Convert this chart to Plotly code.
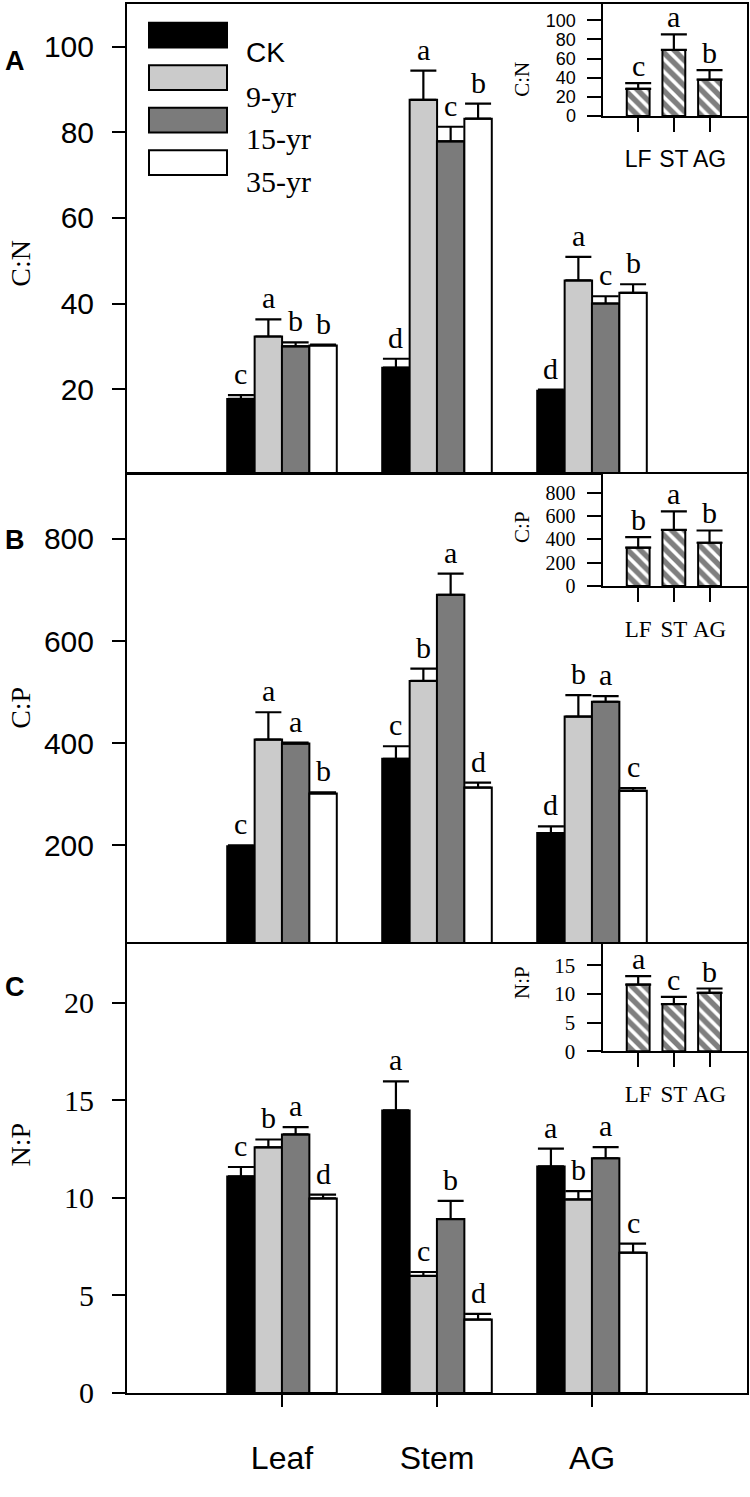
import plotly.graph_objects as go

# categories
groups = ["Leaf", "Stem", "AG"]
treatments = ["CK", "9-yr", "15-yr", "35-yr"]
organs = ["LF", "ST", "AG"]

# main panels, one row per treatment (CK, 9-yr, 15-yr, 35-yr), columns Leaf/Stem/AG
cn_means = [[17.7, 25.0, 19.6], [32.3, 87.6, 45.4], [30.0, 77.9, 40.0], [30.2, 83.2, 42.5]]
cn_errs = [[0.9, 2.1, 0.3], [4.0, 6.8, 5.5], [0.9, 3.4, 1.7], [0.2, 3.5, 2.0]]
cn_letters = [["c", "d", "d"], ["a", "a", "a"], ["b", "c", "c"], ["b", "b", "b"]]

cp_means = [[197.9, 369.2, 223.7], [406.8, 521.8, 452.0], [399.0, 690.6, 481.0], [301.3, 312.9, 306.5]]
cp_errs = [[2.0, 24.6, 13.0], [53.6, 23.9, 42.0], [2.0, 41.4, 11.0], [2.0, 9.7, 5.2]]
cp_letters = [["c", "c", "d"], ["a", "b", "b"], ["a", "a", "a"], ["b", "d", "c"]]

np_means = [[11.1, 14.48, 11.61], [12.59, 6.0, 9.92], [13.25, 8.91, 12.03], [9.97, 3.76, 7.19]]
np_errs = [[0.48, 1.49, 0.91], [0.40, 0.2, 0.42], [0.37, 0.93, 0.57], [0.19, 0.29, 0.46]]
np_letters = [["c", "a", "a"], ["b", "c", "b"], ["a", "b", "a"], ["d", "d", "c"]]

# insets (LF, ST, AG)
cn_in = [28.3, 69.0, 37.9]
cn_in_err = [5.9, 16.2, 10.0]
cn_in_letters = ["c", "a", "b"]
cp_in = [328, 480, 370]
cp_in_err = [90, 159, 105]
cp_in_letters = ["b", "a", "b"]
np_in = [11.64, 8.24, 10.2]
np_in_err = [1.46, 1.26, 0.75]
np_in_letters = ["a", "c", "b"]

colors = ["#000000", "#cbcbcb", "#7b7b7b", "#ffffff"]
offsets = [-0.265, -0.088, 0.088, 0.265]
bar_w = 0.177

W, H = 750, 1497
SANS = "Liberation Sans, Arial"
SERIF = "Liberation Serif, Times New Roman"


def py(top, bottom):
    # pixel rows -> paper domain
    return [1 - bottom / H, 1 - top / H]


fig = go.Figure()

panels = [
    (cn_means, cn_errs, cn_letters, "x", "y"),
    (cp_means, cp_errs, cp_letters, "x2", "y2"),
    (np_means, np_errs, np_letters, "x3", "y3"),
]
annotations = []
for means, errs, letters, xa, ya in panels:
    for i, t in enumerate(treatments):
        xs = [g + offsets[i] for g in range(len(groups))]
        fig.add_trace(go.Bar(
            x=xs, y=means[i], width=bar_w, name=t, showlegend=False,
            xaxis=xa, yaxis=ya,
            marker=dict(color=colors[i], line=dict(color="black", width=2)),
            error_y=dict(type="data", symmetric=False, array=errs[i],
                         arrayminus=[0] * 3, color="black", thickness=2.2, width=13),
        ))
        for j in range(len(groups)):
            annotations.append(dict(
                x=xs[j], y=means[i][j] + errs[i][j], xref=xa, yref=ya,
                text=letters[i][j], showarrow=False, yanchor="bottom", yshift=3,
                font=dict(family=SERIF, size=30, color="black")))

insets = [
    (cn_in, cn_in_err, cn_in_letters, "x4", "y4"),
    (cp_in, cp_in_err, cp_in_letters, "x5", "y5"),
    (np_in, np_in_err, np_in_letters, "x6", "y6"),
]
for vals, errs, letters, xa, ya in insets:
    fig.add_trace(go.Bar(
        x=[0, 1, 2], y=vals, width=0.64, showlegend=False, xaxis=xa, yaxis=ya,
        marker=dict(color="white", line=dict(color="black", width=2),
                    pattern=dict(shape="\\", fgcolor="black", bgcolor="white",
                                 size=9, solidity=0.6)),
        error_y=dict(type="data", symmetric=False, array=errs, arrayminus=[0] * 3,
                     color="black", thickness=2.2, width=13),
    ))
    for j in range(3):
        annotations.append(dict(
            x=j, y=vals[j] + errs[j], xref=xa, yref=ya, text=letters[j],
            showarrow=False, yanchor="bottom", yshift=-1,
            font=dict(family=SERIF, size=30, color="black")))

# main axes
dom_x = [127 / W, 747 / W]
main_y = [py(4, 478), py(479, 953), py(955, 1409)]
ranges = [[0.5, 110], [10, 928], [0, 23]]
tickvals = [[20, 40, 60, 80, 100], [200, 400, 600, 800], [0, 5, 10, 15, 20]]
tickfonts = [(SANS, 30), (SANS, 30), (SERIF, 30)]
titles = ["C:N", "C:P", "N:P"]
letters_abc = ["A", "B", "C"]
letter_y = [44, 546, 1016]

axis_line = dict(showline=True, linecolor="black", linewidth=2, mirror=True,
                 showgrid=False, zeroline=False)
layout = dict(width=W, height=H, margin=dict(l=0, r=0, t=0, b=0),
              paper_bgcolor="white", plot_bgcolor="white", barmode="overlay",
              showlegend=False)

for k in range(3):
    sx = "" if k == 0 else str(k + 1)
    xax = dict(domain=dom_x, range=[-1, 3], anchor="y" + sx, **axis_line)
    if k == 2:
        xax.update(tickvals=[0, 1, 2], ticktext=groups, ticks="outside",
                   ticklen=12, tickwidth=2, tickcolor="black",
                   ticklabelstandoff=24,
                   tickfont=dict(family=SANS, size=32, color="black"))
    else:
        xax.update(showticklabels=False, ticks="")
    layout["xaxis" + sx] = xax
    layout["yaxis" + sx] = dict(
        domain=main_y[k], range=ranges[k], anchor="x" + sx,
        tickvals=tickvals[k], ticks="outside", ticklen=13, tickwidth=2,
        tickcolor="black", ticklabelstandoff=12,
        tickfont=dict(family=tickfonts[k][0], size=tickfonts[k][1], color="black"),
        **axis_line)
    mid = (main_y[k][0] + main_y[k][1]) / 2
    annotations.append(dict(x=21 / W, y=mid, xref="paper", yref="paper",
                            xanchor="center", text=titles[k], textangle=-90,
                            showarrow=False,
                            font=dict(family=SERIF, size=28, color="black")))
    annotations.append(dict(x=15 / W, y=1 - letter_y[k] / H, xref="paper",
                            yref="paper", xanchor="center",
                            text="<b>%s</b>" % letters_abc[k], showarrow=False,
                            font=dict(family=SANS, size=27, color="black")))

# inset axes
in_x = [602.5 / W, 747 / W]
in_y = [py(4, 117.3), py(479.3, 592.7), py(955, 1063.3)]
in_ranges = [[0, 117], [0, 960], [0, 18.7]]
in_ticks = [[0, 20, 40, 60, 80, 100], [0, 200, 400, 600, 800], [0, 5, 10, 15]]
in_fonts = [(SANS, 18), (SERIF, 20), (SERIF, 21)]
in_title_y = [61, 533, 1013]
for k in range(3):
    n = str(k + 4)
    layout["xaxis" + n] = dict(
        domain=in_x, range=[-1, 3.05], anchor="y" + n, tickvals=[0, 1, 2],
        ticktext=organs, ticks="outside", ticklen=14, tickwidth=2,
        tickcolor="black", ticklabelstandoff=7,
        tickfont=dict(family=in_fonts[k][0], size=23, color="black"), **axis_line)
    layout["yaxis" + n] = dict(
        domain=in_y[k], range=in_ranges[k], anchor="x" + n,
        tickvals=in_ticks[k], ticks="outside", ticklen=14, tickwidth=2,
        tickcolor="black", ticklabelstandoff=7,
        tickfont=dict(family=in_fonts[k][0], size=in_fonts[k][1], color="black"),
        **axis_line)
    annotations.append(dict(x=522 / W, y=1 - in_title_y[k] / H, xref="paper",
                            yref="paper", xanchor="center", text=titles[k],
                            textangle=-90, showarrow=False,
                            font=dict(family=SERIF, size=21, color="black")))

# legend drawn as boxes in panel A
shapes = []
box_top = [23, 66, 109, 152]
leg_fonts = [(SANS, 28), (SERIF, 30), (SERIF, 30), (SERIF, 30)]
for i, t in enumerate(treatments):
    y0 = 1 - (box_top[i] + 25) / H
    y1 = 1 - box_top[i] / H
    shapes.append(dict(type="rect", xref="paper", yref="paper",
                       x0=149 / W, x1=227 / W, y0=y0, y1=y1,
                       fillcolor=colors[i], line=dict(color="black", width=2)))
    annotations.append(dict(x=244 / W, y=(y0 + y1) / 2, xref="paper",
                            yref="paper", text=t, showarrow=False,
                            xanchor="left",
                            font=dict(family=leg_fonts[i][0], size=leg_fonts[i][1],
                                      color="black")))

layout["annotations"] = annotations
layout["shapes"] = shapes
fig.update_layout(**layout)

# drop the default 8px page margin so the figure fills the window
fig.write_html("out.html", config={"displayModeBar": False},
               post_script="document.body.style.margin='0';")
